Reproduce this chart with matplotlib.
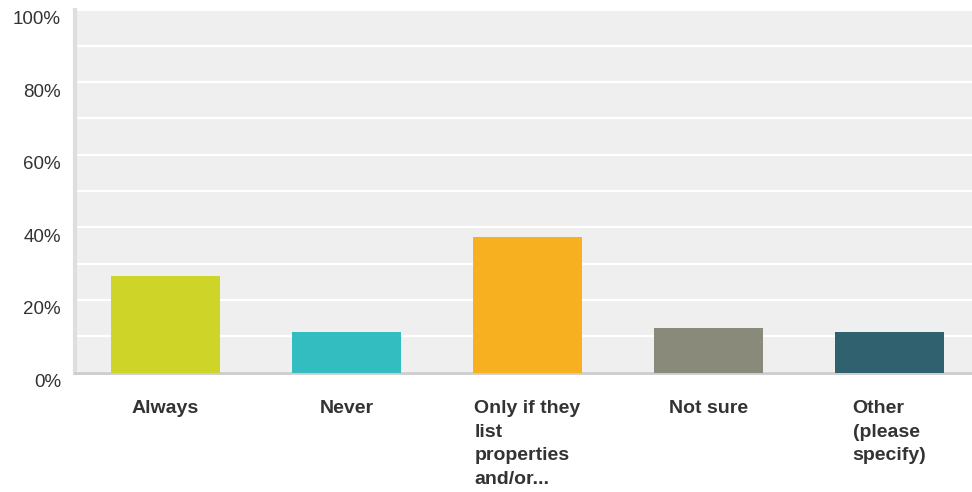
import matplotlib.pyplot as plt
from matplotlib.transforms import ScaledTranslation

categories = ["Always", "Never", "Only if they\nlist\nproperties\nand/or...", "Not sure", "Other\n(please\nspecify)"]
values = [26.6, 11.2, 37.4, 12.3, 11.2]
colors = ["#cfd428", "#33bdc0", "#f7b01f", "#8a8a7a", "#2f616e"]
yticks = [0, 20, 40, 60, 80, 100]
ytick_labels = ["0%", "20%", "40%", "60%", "80%", "100%"]

plt.rcParams['font.family'] = ['Liberation Sans', 'DejaVu Sans']

fig = plt.figure(figsize=(9.72, 4.92), dpi=100)
# axes placed in pixel terms: left 75px, bottom at 372.6px from top, top at 9.5px
ax = fig.add_axes([75 / 972, (492 - 372.6) / 492, 1 - 75 / 972, (372.6 - 9.5) / 492])
ax.set_facecolor("#efefef")

x = list(range(len(categories)))
ax.bar(x, values, width=0.6, color=colors, zorder=3)

ax.set_ylim(0, 100)
ax.set_xlim(-0.5, (972 - 75) / 181 - 0.5)

# gridlines every 10%
ax.set_yticks(yticks)
ax.set_yticks([10, 30, 50, 70, 90], minor=True)
ax.yaxis.grid(True, which="both", color="white", linewidth=1.6, zorder=1)
ax.set_axisbelow(True)
ax.tick_params(axis="y", which="both", length=0, pad=10, labelsize=13.5, labelcolor="#333333")
ax.set_yticklabels(ytick_labels)
offset = ScaledTranslation(0, -8 / 100, fig.dpi_scale_trans)
for lbl in ax.get_yticklabels():
    lbl.set_transform(lbl.get_transform() + offset)

ax.set_xticks(x)
ax.set_xticklabels(categories, fontweight="bold", fontsize=14, color="#333333",
                   multialignment="left", linespacing=1.5)
ax.tick_params(axis="x", length=0, pad=20)

for side in ["top", "right"]:
    ax.spines[side].set_visible(False)
ax.spines["left"].set_color("#dedede")
ax.spines["left"].set_linewidth(3)
ax.spines["bottom"].set_color("#cccccc")
ax.spines["bottom"].set_linewidth(2)

fig.savefig("out.png", dpi=100)
